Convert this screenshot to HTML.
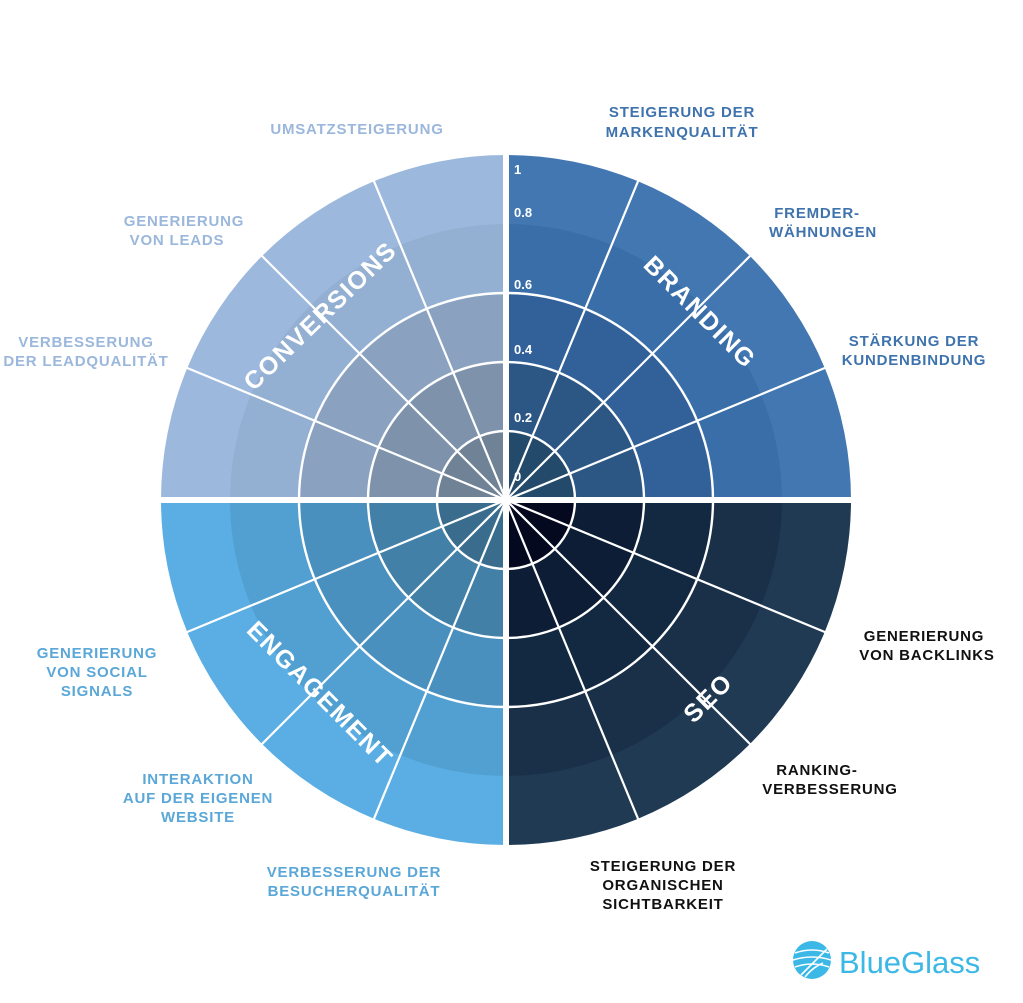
<!DOCTYPE html>
<html><head><meta charset="utf-8"><style>
html,body{margin:0;padding:0;background:#fff;}
svg{display:block;}
text{font-family:"Liberation Sans",sans-serif;font-weight:bold;}
</style></head><body>
<svg id="s" width="1023" height="1003" viewBox="0 0 1023 1003" xmlns="http://www.w3.org/2000/svg">
<g id="w"></g>
<g font-size="15" letter-spacing="0.8" text-anchor="middle">
<text x="357" y="134" fill="#9bb7dc">UMSATZSTEIGERUNG</text>
<text x="184" y="226" fill="#9bb7dc">GENERIERUNG</text>
<text x="177" y="245" fill="#9bb7dc">VON LEADS</text>
<text x="86" y="347" fill="#9bb7dc">VERBESSERUNG</text>
<text x="86" y="366" fill="#9bb7dc">DER LEADQUALITÄT</text>
<text x="682" y="117" fill="#3f73ad">STEIGERUNG DER</text>
<text x="682" y="137" fill="#3f73ad">MARKENQUALITÄT</text>
<text x="817" y="218" fill="#3f73ad">FREMDER-</text>
<text x="823" y="237" fill="#3f73ad">WÄHNUNGEN</text>
<text x="914" y="346" fill="#3f73ad">STÄRKUNG DER</text>
<text x="914" y="365" fill="#3f73ad">KUNDENBINDUNG</text>
<text x="924" y="641" fill="#111">GENERIERUNG</text>
<text x="927" y="660" fill="#111">VON BACKLINKS</text>
<text x="817" y="775" fill="#111">RANKING-</text>
<text x="830" y="794" fill="#111">VERBESSERUNG</text>
<text x="663" y="871" fill="#111">STEIGERUNG DER</text>
<text x="663" y="890" fill="#111">ORGANISCHEN</text>
<text x="663" y="909" fill="#111">SICHTBARKEIT</text>
<text x="97" y="658" fill="#5aa7d8">GENERIERUNG</text>
<text x="97" y="677" fill="#5aa7d8">VON SOCIAL</text>
<text x="97" y="696" fill="#5aa7d8">SIGNALS</text>
<text x="198" y="784" fill="#5aa7d8">INTERAKTION</text>
<text x="198" y="803" fill="#5aa7d8">AUF DER EIGENEN</text>
<text x="198" y="822" fill="#5aa7d8">WEBSITE</text>
<text x="354" y="877" fill="#5aa7d8">VERBESSERUNG DER</text>
<text x="354" y="896" fill="#5aa7d8">BESUCHERQUALITÄT</text>
</g>
<g font-size="13" fill="#fff">
<text x="514" y="174">1</text>
<text x="514" y="217">0.8</text>
<text x="514" y="289">0.6</text>
<text x="514" y="354">0.4</text>
<text x="514" y="422">0.2</text>
<text x="514" y="481">0</text>
</g>
<g font-size="25" fill="#fff" letter-spacing="1.5" text-anchor="middle">
<text transform="translate(326,322) rotate(-44)">CONVERSIONS</text>
<text transform="translate(694,318) rotate(45)">BRANDING</text>
<text transform="translate(314,700) rotate(45)">ENGAGEMENT</text>
<text transform="translate(714,704) rotate(-45)">SEO</text>
</g>
<g transform="translate(793,941)">
<circle cx="19" cy="19" r="19" fill="#3bb8e6"/>
<path d="M2 12 Q19 6 36 12 M0 19 Q19 13 38 19 M2 26 Q19 20 36 26 M8 34 Q22 20 34 8 M12 36 Q20 26 30 22" stroke="#fff" stroke-width="1.6" fill="none"/>
<text x="46" y="32" font-size="31" fill="#3bb8e6" style="font-weight:normal">BlueGlass</text>
</g>
</svg>
<script>
var cx=506,cy=500,R=[69,138,207,276,345];
var Q=[
 [180,["#6f8296","#7e93ab","#8aa2c0","#93afd2","#9cb8dd"]],
 [270,["#234a6b","#2c5784","#32619a","#396ea8","#4277b1"]],
 [0,["#040920","#0c1d35","#132841","#1a3049","#203a53"]],
 [90,["#3a6d8d","#4280a8","#4a90bf","#52a0d2","#5aaee3"]]];
var g=document.getElementById("w"),h="";
function pt(r,a){a=a*Math.PI/180;return (cx+r*Math.cos(a)).toFixed(2)+","+(cy+r*Math.sin(a)).toFixed(2);}
Q.forEach(function(q){for(var i=4;i>=0;i--){var r=R[i];h+='<path d="M'+cx+','+cy+' L'+pt(r,q[0])+' A'+r+','+r+' 0 0 1 '+pt(r,q[0]+90)+' Z" fill="'+q[1][i]+'"/>';}});
for(var i=0;i<3;i++){h+='<circle cx="'+cx+'" cy="'+cy+'" r="'+R[i]+'" fill="none" stroke="#fff" stroke-width="2.4"/>';}
for(var a=0;a<360;a+=22.5){if(a%90){var p=pt(347,a).split(",");h+='<line x1="'+cx+'" y1="'+cy+'" x2="'+p[0]+'" y2="'+p[1]+'" stroke="#fff" stroke-width="2.2"/>';}}
h+='<rect x="'+(cx-3)+'" y="140" width="6" height="730" fill="#fff"/><rect x="140" y="'+(cy-3)+'" width="740" height="6" fill="#fff"/>';
g.innerHTML=h;
</script>
</body></html>
